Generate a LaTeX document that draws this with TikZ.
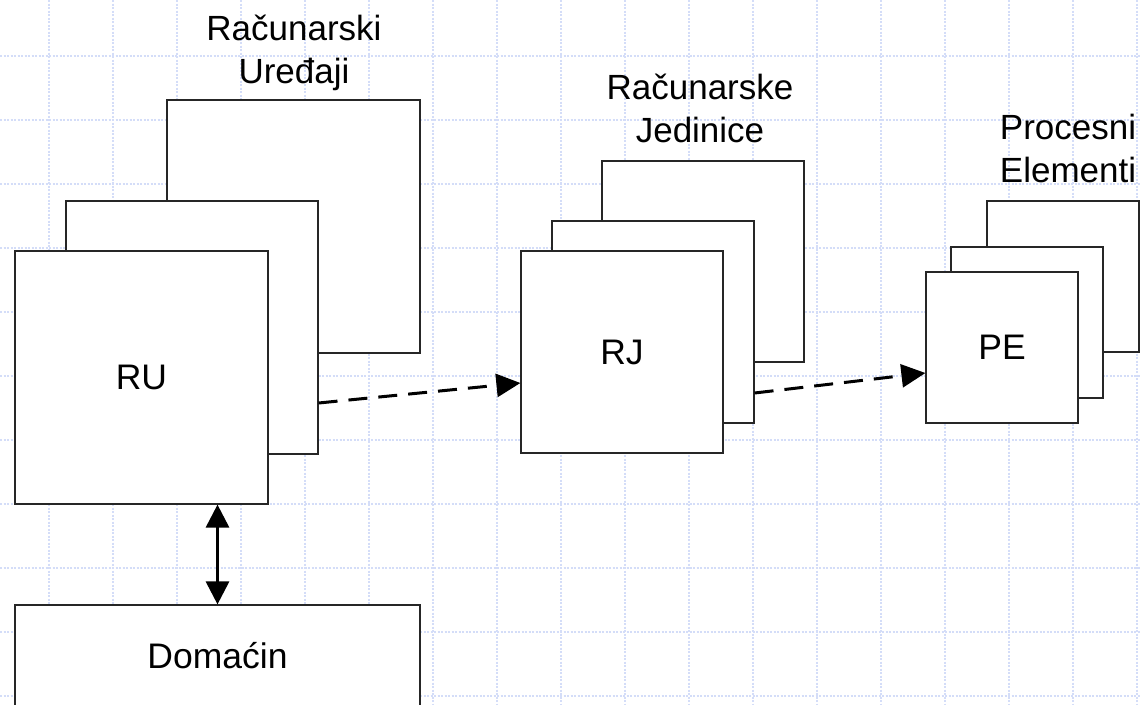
\documentclass[tikz,border=0pt]{standalone}
\usepackage{fontspec}
\setmainfont{Liberation Sans}
\usetikzlibrary{arrows.meta}
\definecolor{gridblue}{HTML}{D4DDF8}
\begin{document}
\begin{tikzpicture}[x=1pt,y=-1pt,
  gridline/.style={draw=gridblue, line width=1.6pt, dash pattern=on 2pt off 1.5pt},
  box/.style={draw=black!85, fill=white, line width=1.2pt, rectangle, inner sep=0pt, font=\fontsize{35.5}{42}\selectfont},
  lbl/.style={align=center, inner sep=0pt, font=\fontsize{35}{43}\selectfont},
  dasharrow/.style={line width=3pt, dash pattern=on 19pt off 11pt, -{Triangle[length=24pt,width=23pt]}},
  dblarrow/.style={line width=3pt, {Triangle[length=23pt,width=23pt]}-{Triangle[length=23pt,width=23pt]}}
]
\useasboundingbox (0,0) rectangle (1140,704);
\fill[white] (0,0) rectangle (1140,704);
% grid
\foreach \gx in {49,113,...,1140} {\draw[gridline] (\gx,0) -- (\gx,704);}
\foreach \gy in {-8,56,...,704} {\draw[gridline] (0,\gy) -- (1140,\gy);}

% RU stack
\node[box, minimum width=253pt, minimum height=253pt] (rub) at (293.5,226.5) {};
\node[box, minimum width=252pt, minimum height=253pt] (rum) at (192,327.5) {};
\node[box, minimum width=253pt, minimum height=253pt] (ruf) at (141.5,377.5) {RU};
\node[lbl] (rul) at (294,53) {Računarski\\Uređaji};

% RJ stack
\node[box, minimum width=202pt, minimum height=201pt] (rjb) at (703,261.5) {};
\node[box, minimum width=202pt, minimum height=202pt] (rjm) at (653,322) {};
\node[box, minimum width=202pt, minimum height=202pt] (rjf) at (622,352) {RJ};
\node[lbl] (rjl) at (700,108) {Računarske\\Jedinice};

% PE stack
\node[box, minimum width=152pt, minimum height=151pt] (peb) at (1063,276.5) {};
\node[box, minimum width=152pt, minimum height=151pt] (pem) at (1027,322.5) {};
\node[box, minimum width=152pt, minimum height=151pt] (pef) at (1002,347.5) {PE};
\node[lbl] (pel) at (1068,148) {Procesni\\Elementi};

% Domacin
\node[box, minimum width=405pt, minimum height=101pt] (dom) at (217.5,655.5) {Domaćin};

% connectors
\draw[dblarrow] (dom.north |- ruf.south) -- (dom.north);
\draw[dasharrow] ([yshift=-75.5pt]rum.east) -- ([yshift=-31pt]rjf.west);
\draw[dasharrow] ([yshift=-71pt]rjm.east) -- ([yshift=-25.5pt]pef.west);
\end{tikzpicture}
\end{document}
